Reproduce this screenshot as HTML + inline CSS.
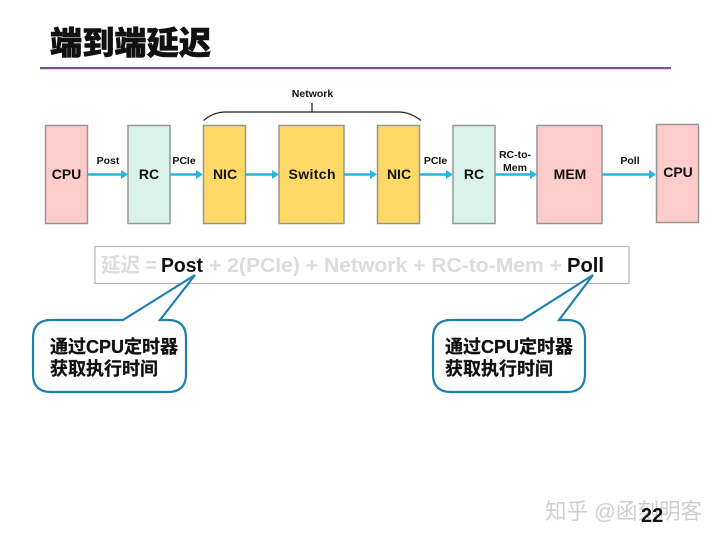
<!DOCTYPE html>
<html><head><meta charset="utf-8"><style>
html,body{margin:0;padding:0;background:#fff}
svg{display:block}
text{font-family:"Liberation Sans","Noto Sans CJK SC",sans-serif;font-weight:700;fill:#111}
.b{stroke:#969696;stroke-width:1.5}
.a{stroke:#29b4e6;stroke-width:2.6;fill:none}
.h{fill:#29b4e6}
.n{font-size:14px;text-anchor:middle}
.l{font-size:10.5px;text-anchor:middle}
.g{fill:#dcdcdc}
.c{font-size:18px;stroke:#111;stroke-width:.3}
</style></head><body>
<svg width="720" height="540" viewBox="0 0 720 540" xmlns="http://www.w3.org/2000/svg">
<text x="50" y="54" textLength="161" lengthAdjust="spacingAndGlyphs" style="font-size:32px;font-weight:900;stroke:#111;stroke-width:.6">端到端延迟</text>
<rect x="40" y="67" width="631" height="2.2" fill="#7d4f98"/>

<rect class="b" x="45.5" y="125.5" width="42" height="98" fill="#ffcccc"/>
<rect class="b" x="128" y="125.5" width="42" height="98" fill="#d9f3ea"/>
<rect class="b" x="203.5" y="125.5" width="42" height="98" fill="#ffd966"/>
<rect class="b" x="279" y="125.5" width="65" height="98" fill="#ffd966"/>
<rect class="b" x="377.5" y="125.5" width="42" height="98" fill="#ffd966"/>
<rect class="b" x="453" y="125.5" width="42" height="98" fill="#d9f3ea"/>
<rect class="b" x="537" y="125.5" width="65" height="98" fill="#ffcccc"/>
<rect class="b" x="656.5" y="124.5" width="42" height="98" fill="#ffcccc"/>

<text class="n" x="66.500" y="179">CPU</text>
<text class="n" x="149" y="179">RC</text>
<text class="n" x="225" y="179">NIC</text>
<text class="n" x="312" y="179" textLength="47">Switch</text>
<text class="n" x="399" y="179">NIC</text>
<text class="n" x="474" y="179">RC</text>
<text class="n" x="570" y="179">MEM</text>
<text class="n" x="678" y="177">CPU</text>

<path class="a" d="M87 174.500H122M170 174.500H197M245 174.500H273M344 174.500H371M419 174.500H447M495 174.500H531M602 174.500H650"/>
<path class="h" d="M128 174.500l-7-4.500v9zM203 174.500l-7-4.500v9zM279 174.500l-7-4.500v9zM377 174.500l-7-4.500v9zM453 174.500l-7-4.500v9zM537 174.500l-7-4.500v9zM656 174.500l-7-4.500v9z"/>

<text class="l" x="108" y="164">Post</text>
<text class="l" x="184" y="164">PCIe</text>
<text class="l" x="435.500" y="164">PCIe</text>
<text class="l" x="515" y="158">RC-to-</text>
<text class="l" x="515" y="171">Mem</text>
<text class="l" x="630" y="164">Poll</text>
<text class="l" x="312.500" y="97">Network</text>

<path d="M203.500 120.500C210 115 217 112 226 112H398C407 112 414 115 421 120.500M312 103V112" fill="none" stroke="#222" stroke-width="1.2"/>

<rect x="95" y="246.500" width="534" height="37" fill="#fff" stroke="#b4b4b4" stroke-width="1.2"/>
<text x="101" y="272" textLength="56" lengthAdjust="spacingAndGlyphs" style="font-size:20px" class="g">延迟 =</text>
<text x="161" y="272" textLength="42" lengthAdjust="spacingAndGlyphs" style="font-size:20px">Post</text>
<text x="209" y="272" textLength="353" lengthAdjust="spacingAndGlyphs" style="font-size:20px" class="g">+ 2(PCIe) + Network + RC-to-Mem +</text>
<text x="567" y="272" textLength="37" lengthAdjust="spacingAndGlyphs" style="font-size:20px">Poll</text>

<path d="M51 320H123L195 275L160 320H168Q186 320 186 338V374Q186 392 168 392H51Q33 392 33 374V338Q33 320 51 320Z" fill="#fff" stroke="#1f7fb0" stroke-width="2.2"/>
<path d="M451 320H522L593 275L559 320H567Q585 320 585 338V374Q585 392 567 392H451Q433 392 433 374V338Q433 320 451 320Z" fill="#fff" stroke="#1f7fb0" stroke-width="2.2"/>
<text class="c" x="50" y="353" textLength="128" lengthAdjust="spacingAndGlyphs">通过CPU定时器</text>
<text class="c" x="50" y="375">获取执行时间</text>
<text class="c" x="445" y="353" textLength="128" lengthAdjust="spacingAndGlyphs">通过CPU定时器</text>
<text class="c" x="445" y="375">获取执行时间</text>

<text x="545" y="519" textLength="157" lengthAdjust="spacingAndGlyphs" style="font-size:22px;font-weight:400;fill:#cfcfcf">知乎 @函刻明客</text>
<text x="641" y="522" style="font-size:20px;fill:#111">22</text>
</svg>
</body></html>
